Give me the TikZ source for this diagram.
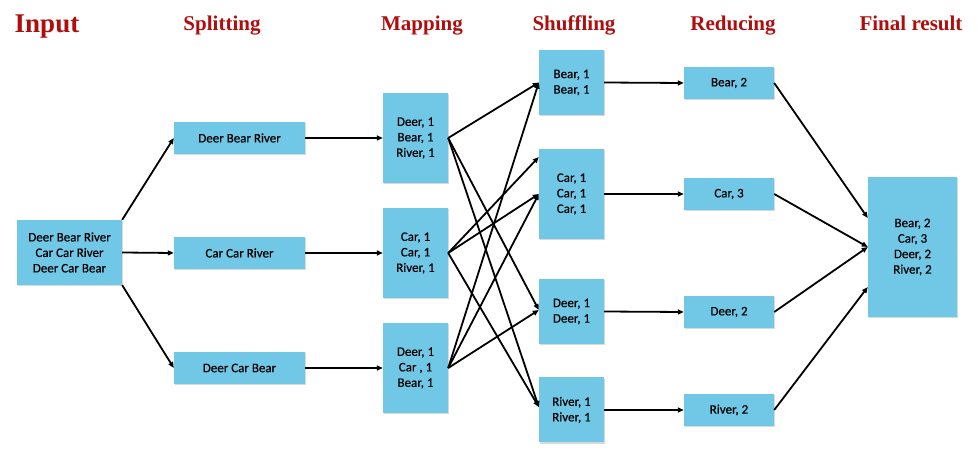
\documentclass[tikz,border=0pt]{standalone}
\usepackage{fontspec}
\setmainfont{Carlito}[FakeBold=0.5]
\newfontfamily\headfont{Liberation Serif}
\usetikzlibrary{arrows.meta,shadows,calc}
\definecolor{boxblue}{RGB}{113,200,230}
\definecolor{headred}{RGB}{176,14,14}
\tikzset{
  box/.style={draw=none, fill=boxblue, inner sep=0pt, align=center,
    font=\fontsize{13}{15.5}\selectfont,
    drop shadow={shadow xshift=1pt, shadow yshift=-1.5pt, opacity=0.25, fill=black!60}},
  head/.style={font=\headfont\bfseries\fontsize{21}{24}\selectfont, text=headred, anchor=base},
  arr/.style={-{Triangle[length=6pt,width=5pt]}, line width=1.8pt, black},
}
\begin{document}
\begin{tikzpicture}[x=1pt,y=-1pt]
\useasboundingbox (0,0) rectangle (978,454);
% headers
\node[head, font=\headfont\bfseries\fontsize{27}{30}\selectfont] (hin) at (47,33) {Input};
\node[head] (hsp) at (222,31) {Splitting};
\node[head] (hmp) at (422,31) {Mapping};
\node[head] (hsh) at (574,31) {Shuffling};
\node[head] (hrd) at (733,31) {Reducing};
\node[head] (hfr) at (911,31) {Final result};
% input
\node[box, minimum width=105pt, minimum height=65pt] (in) at (69.5,252.5) {Deer Bear River\\Car Car River\\Deer Car Bear};
% splitting
\node[box, minimum width=131pt, minimum height=32pt] (s1) at (239.5,138) {Deer Bear River};
\node[box, minimum width=131pt, minimum height=32pt] (s2) at (239.5,253) {Car Car River};
\node[box, minimum width=131pt, minimum height=32pt] (s3) at (239.5,368) {Deer Car Bear};
% mapping
\node[box, minimum width=65pt, minimum height=90pt] (m1) at (415.5,138) {Deer, 1\\Bear, 1\\River, 1};
\node[box, minimum width=65pt, minimum height=90pt] (m2) at (415.5,253) {Car, 1\\Car, 1\\River, 1};
\node[box, minimum width=65pt, minimum height=90pt] (m3) at (415.5,368) {Deer, 1\\Car , 1\\Bear, 1};
% shuffling
\node[box, minimum width=65pt, minimum height=65pt] (h1) at (571.5,82.5) {Bear, 1\\Bear, 1};
\node[box, minimum width=65pt, minimum height=90pt] (h2) at (571.5,194) {Car, 1\\Car, 1\\Car, 1};
\node[box, minimum width=65pt, minimum height=65pt] (h3) at (571.5,311.5) {Deer, 1\\Deer, 1};
\node[box, minimum width=65pt, minimum height=65pt] (h4) at (571.5,410) {River, 1\\River, 1};
% reducing
\node[box, minimum width=90pt, minimum height=32pt] (r1) at (729,83) {Bear, 2};
\node[box, minimum width=90pt, minimum height=32pt] (r2) at (729,194) {Car, 3};
\node[box, minimum width=90pt, minimum height=32pt] (r3) at (729,312) {Deer, 2};
\node[box, minimum width=90pt, minimum height=32pt] (r4) at (729,410) {River, 2};
% final
\node[box, minimum width=89pt, minimum height=140pt] (fin) at (912.5,247) {Bear, 2\\Car, 3\\Deer, 2\\River, 2};
% input -> splitting
\draw[arr] (in.north east) -- (s1.west);
\draw[arr] (in.east) -- (s2.west);
\draw[arr] (in.south east) -- (s3.west);
% splitting -> mapping
\draw[arr] (s1.east) -- (m1.west);
\draw[arr] (s2.east) -- (m2.west);
\draw[arr] (s3.east) -- (m3.west);
% mapping -> shuffling
\draw[arr] (m1.east) -- (h1.west);
\draw[arr] (m1.east) -- ($(h3.west)+(0,-1.5)$);
\draw[arr] (m1.east) -- ($(h4.west)+(0,-3)$);
\draw[arr] (m2.east) -- ($(h2.west)+(0,-37)$);
\draw[arr] (m2.east) -- (h2.west);
\draw[arr] (m2.east) -- ($(h4.west)+(0,-3)$);
\draw[arr] (m3.east) -- (h1.west);
\draw[arr] (m3.east) -- (h2.west);
\draw[arr] (m3.east) -- ($(h3.west)+(0,-1.5)$);
% shuffling -> reducing
\draw[arr] (h1.east) -- (r1.west);
\draw[arr] (h2.east) -- (r2.west);
\draw[arr] (h3.east) -- (r3.west);
\draw[arr] (h4.east) -- (r4.west);
% reducing -> final
\draw[arr] (r1.east) -- ($(fin.west)+(0,-29)$);
\draw[arr] (r2.east) -- (fin.west);
\draw[arr] (r3.east) -- (fin.west);
\draw[arr] (r4.east) -- ($(fin.west)+(0,40)$);
\end{tikzpicture}
\end{document}
